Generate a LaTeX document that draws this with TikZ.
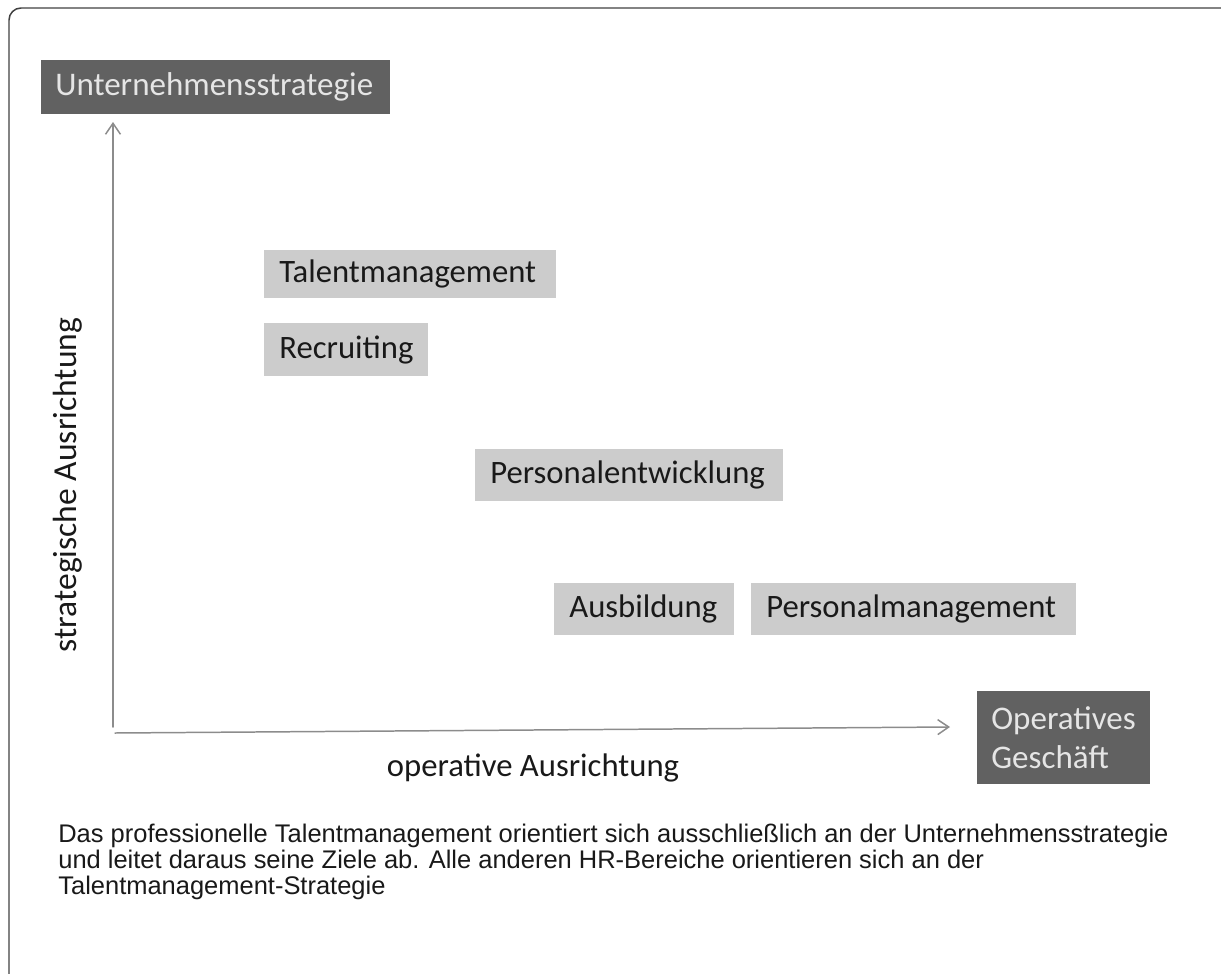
\documentclass[tikz,border=0pt]{standalone}
\usepackage{fontspec}
\usepackage{tikz}
\setmainfont{Carlito}
\newfontfamily\capfont{Liberation Sans}
\usetikzlibrary{arrows.meta}
\definecolor{dunkelgrau}{rgb}{0.38,0.38,0.38}
\definecolor{hellgrau}{rgb}{0.80,0.80,0.80}
\definecolor{achsgrau}{rgb}{0.55,0.55,0.55}
\definecolor{textgrau}{rgb}{0.90,0.90,0.90}
\definecolor{schwarzgrau}{rgb}{0.10,0.10,0.10}
\definecolor{rahmengrau}{rgb}{0.25,0.25,0.25}
\tikzset{
  hrbox/.style={fill=hellgrau, text=schwarzgrau, anchor=north west, inner xsep=0.3cm, inner ysep=0pt, align=left, font=\fontsize{18.6}{22}\selectfont},
  zielbox/.style={fill=dunkelgrau, text=textgrau, anchor=north west, inner xsep=0.28cm, inner ysep=0pt, align=left, font=\fontsize{18.8}{22}\selectfont},
  achse/.style={->, line width=0.85pt, color=achsgrau},
  achslabel/.style={text=schwarzgrau, font=\fontsize{18.6}{22}\selectfont}
}

\begin{document}
\begin{tikzpicture}[line cap=round,line join=round,>={Straight Barb[length=0.22cm,width=0.3cm]},x=0.02cm,y=-0.02cm]
\useasboundingbox (0,0) rectangle (1221,974);
\draw [color=rahmengrau, line width=0.85pt, rounded corners=0.24cm] (9,974) -- (9,8) -- (1221,8);

% Ziele
\node [zielbox, minimum width=6.98cm, minimum height=1.08cm, text width=6.42cm] (strategie) at (41,60) {Unternehmensstrategie};
\node [zielbox, minimum width=3.46cm, minimum height=1.86cm, text width=2.9cm] (geschaeft) at (977,691) {Operatives\\Geschäft};

% HR-Bereiche
\node [hrbox, minimum width=5.84cm, minimum height=0.96cm, text width=5.24cm] (talent) at (264,250) {Talentmanagement};
\node [hrbox, minimum width=3.28cm, minimum height=1.06cm, text width=2.68cm] (recruiting) at (264,323) {Recruiting};
\node [hrbox, minimum width=6.16cm, minimum height=1.04cm, text width=5.56cm] (entwicklung) at (475,449) {Personalentwicklung};
\node [hrbox, minimum width=3.6cm, minimum height=1.04cm, text width=3.0cm] (ausbildung) at (554,583) {Ausbildung};
\node [hrbox, minimum width=6.5cm, minimum height=1.04cm, text width=5.9cm] (management) at (751,583) {Personalmanagement};

% Achsen
\coordinate (nullv) at (113,727);
\coordinate (nullh) at (115,733);
\coordinate (spitzev) at (113,122);
\coordinate (spitzeh) at (950,727);
\draw [achse] (nullv) -- (spitzev);
\draw [achse] (nullh) -- (spitzeh);
\node [achslabel, rotate=90, font=\fontsize{19.1}{22}\selectfont] (ylabel) at (68,485) {strategische Ausrichtung};
\node [achslabel] (xlabel) at (533,768) {operative Ausrichtung};

\node [anchor=base west, align=left, text=schwarzgrau, inner sep=0pt, font=\capfont\fontsize{14.5}{14.7}\selectfont] (text) at (58,894) {Das professionelle Talentmanagement orientiert sich ausschließlich an der Unternehmensstrategie\\und leitet daraus seine Ziele ab. Alle anderen HR-Bereiche orientieren sich an der\\Talentmanagement-Strategie};
\end{tikzpicture}
\end{document}
